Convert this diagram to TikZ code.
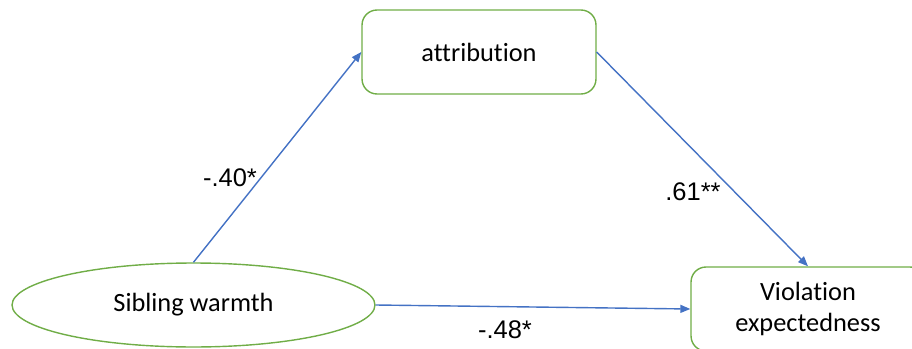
\documentclass[tikz,border=0pt]{standalone}
\usepackage{fontspec}
\setmainfont[Ligatures=NoCommon]{Carlito}
\newfontfamily\coeffont{Liberation Sans}
\usetikzlibrary{shapes.geometric,arrows.meta}

\definecolor{boxgreen}{RGB}{112,173,71}
\definecolor{pathblue}{RGB}{68,114,196}

\begin{document}
\begin{tikzpicture}[
  x=0.02cm, y=-0.02cm,
  varbox/.style={draw=boxgreen, line width=0.8pt, rounded corners=0.3cm,
    minimum width=4.68cm, minimum height=1.68cm, align=center,
    font=\fontsize{15}{17.5}\selectfont},
  varoval/.style={ellipse, draw=boxgreen, line width=0.8pt,
    minimum width=7.26cm, minimum height=1.68cm,
    font=\fontsize{15}{17.5}\selectfont},
  path arrow/.style={draw=pathblue, line width=0.8pt,
    -{Triangle[length=2mm,width=1.6mm]}},
  coef/.style={font=\coeffont\fontsize{14.5}{17}\selectfont}]

    \useasboundingbox (0,0) rectangle (912,348);
    \clip (0,0) rectangle (912,348);

    \node[varoval] at (193.5, 305) (sib) {Sibling warmth};
    \node[varbox] at (479, 52) (attr) {attribution};
    \node[varbox] at (808, 309) (viol) {Violation\\expectedness};

    \draw[path arrow] (sib.north) -- (attr.west);
    \draw[path arrow] (attr.east) -- (viol.north);
    \draw[path arrow] (sib.east) -- (viol.west);

    \node[coef] at (230, 178) (c1) {-.40*};
    \node[coef] at (693, 192) (c2) {.61**};
    \node[coef] at (505, 330) (c3) {-.48*};

\end{tikzpicture}
\end{document}
